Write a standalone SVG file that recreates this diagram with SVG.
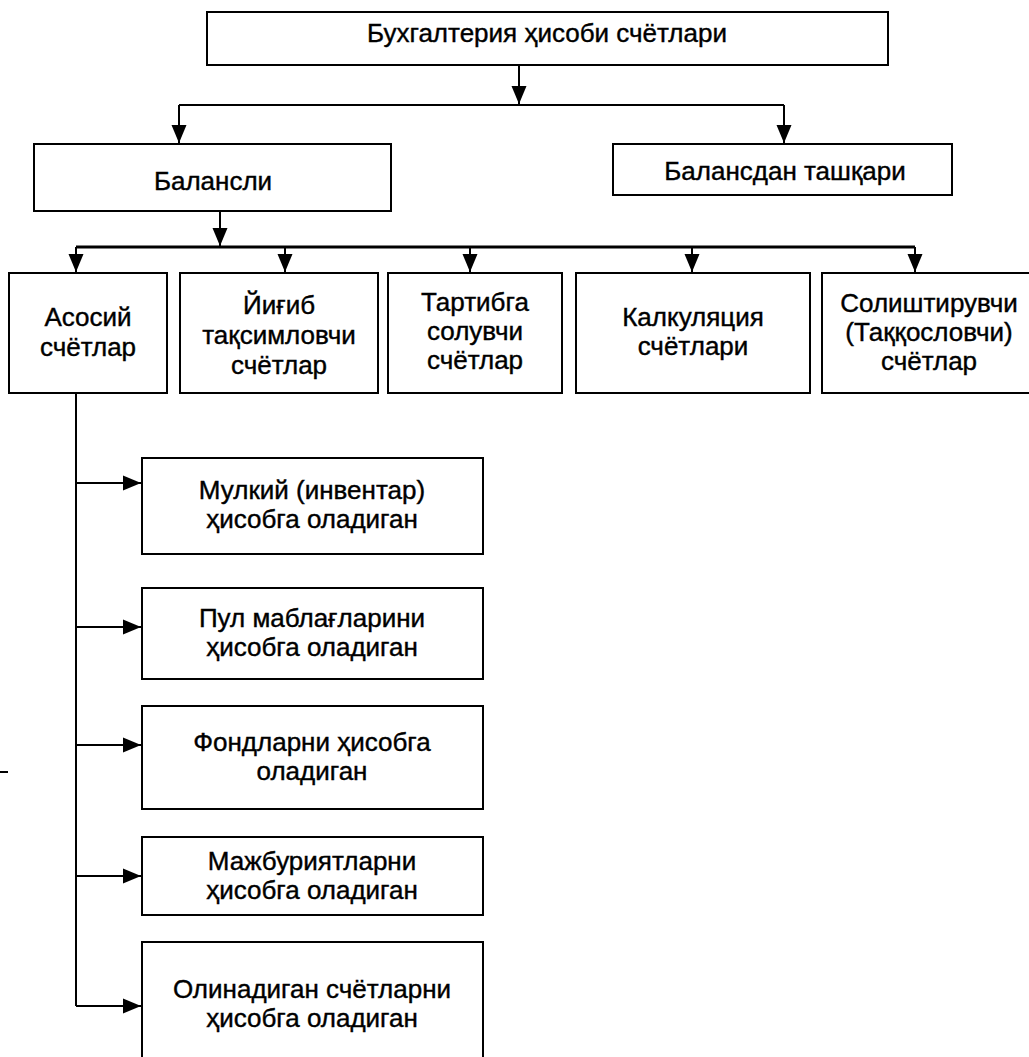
<svg xmlns="http://www.w3.org/2000/svg" width="1029" height="1057" viewBox="0 0 1029 1057">
<style>
.box{fill:#fff;stroke:#000;stroke-width:2}
.t{font-family:"Liberation Sans",Arial,sans-serif;font-size:26px;text-anchor:middle;fill:#000;stroke:#000;stroke-width:0.4}
.c{fill:none;stroke:#000;stroke-width:2}
.bus{fill:none;stroke:#000;stroke-width:3}
</style>
<defs>
<marker id="ah" markerWidth="19" markerHeight="16" refX="18" refY="8" orient="auto" markerUnits="userSpaceOnUse">
<path d="M0,0.5 L18,8 L0,15.5 z" fill="#000"/>
</marker>
</defs>
<rect width="1029" height="1057" fill="#fff"/>
<g id="connectors">
<path class="c" d="M519,65 V104" marker-end="url(#ah)"/>
<path class="c" d="M179,105 H784"/>
<path class="c" d="M179,105 V143" marker-end="url(#ah)"/>
<path class="c" d="M784,105 V143" marker-end="url(#ah)"/>
<path class="c" d="M220,211 V246" marker-end="url(#ah)"/>
<path class="bus" d="M76,247 H915"/>
<path class="c" d="M76,247 V272" marker-end="url(#ah)"/>
<path class="c" d="M285,247 V272" marker-end="url(#ah)"/>
<path class="c" d="M470,247 V272" marker-end="url(#ah)"/>
<path class="c" d="M692,247 V272" marker-end="url(#ah)"/>
<path class="c" d="M915,247 V272" marker-end="url(#ah)"/>
<path class="c" d="M76,393 V1006"/>
<path class="c" d="M76,483 H141" marker-end="url(#ah)"/>
<path class="c" d="M76,627 H141" marker-end="url(#ah)"/>
<path class="c" d="M76,745 H141" marker-end="url(#ah)"/>
<path class="c" d="M76,876 H141" marker-end="url(#ah)"/>
<path class="c" d="M76,1006 H141" marker-end="url(#ah)"/>
<path class="c" d="M0,772 H8"/>
</g>
<g id="n-root">
<rect class="box" x="207" y="12" width="681" height="53"/>
<text class="t" x="547" y="42">Бухгалтерия ҳисоби счётлари</text>
</g>
<g id="n-balansli">
<rect class="box" x="34" y="144" width="357" height="67"/>
<text class="t" x="213" y="190">Балансли</text>
</g>
<g id="n-balansdan">
<rect class="box" x="613" y="144" width="339" height="51"/>
<text class="t" x="785" y="180">Балансдан ташқари</text>
</g>
<g id="n-asosiy">
<rect class="box" x="9" y="273" width="158" height="120"/>
<text class="t" x="88" y="326">Асосий</text>
<text class="t" x="88" y="356">счётлар</text>
</g>
<g id="n-yigib">
<rect class="box" x="180" y="273" width="198" height="120"/>
<text class="t" x="279" y="314">Йиғиб</text>
<text class="t" x="279" y="344">тақсимловчи</text>
<text class="t" x="279" y="374">счётлар</text>
</g>
<g id="n-tartibga">
<rect class="box" x="388" y="273" width="174" height="120"/>
<text class="t" x="475" y="311">Тартибга</text>
<text class="t" x="475" y="340">солувчи</text>
<text class="t" x="475" y="369">счётлар</text>
</g>
<g id="n-kalkulyatsiya">
<rect class="box" x="576" y="273" width="234" height="120"/>
<text class="t" x="693" y="326">Калкуляция</text>
<text class="t" x="693" y="355">счётлари</text>
</g>
<g id="n-solishtiruvchi">
<rect class="box" x="822" y="273" width="214" height="120"/>
<text class="t" x="929" y="312">Солиштирувчи</text>
<text class="t" x="929" y="341">(Таққословчи)</text>
<text class="t" x="929" y="370">счётлар</text>
</g>
<g id="n-mulkiy">
<rect class="box" x="142" y="458" width="341" height="96"/>
<text class="t" x="312" y="499">Мулкий (инвентар)</text>
<text class="t" x="312" y="528">ҳисобга оладиган</text>
</g>
<g id="n-pul">
<rect class="box" x="142" y="588" width="341" height="91"/>
<text class="t" x="312" y="627">Пул маблағларини</text>
<text class="t" x="312" y="656">ҳисобга оладиган</text>
</g>
<g id="n-fondlar">
<rect class="box" x="142" y="706" width="341" height="103"/>
<text class="t" x="312" y="751">Фондларни ҳисобга</text>
<text class="t" x="312" y="780">оладиган</text>
</g>
<g id="n-majburiyat">
<rect class="box" x="142" y="837" width="341" height="78"/>
<text class="t" x="312" y="870">Мажбуриятларни</text>
<text class="t" x="312" y="899">ҳисобга оладиган</text>
</g>
<g id="n-olinadigan">
<rect class="box" x="142" y="942" width="341" height="130"/>
<text class="t" x="312" y="998">Олинадиган счётларни</text>
<text class="t" x="312" y="1027">ҳисобга оладиган</text>
</g>
</svg>
